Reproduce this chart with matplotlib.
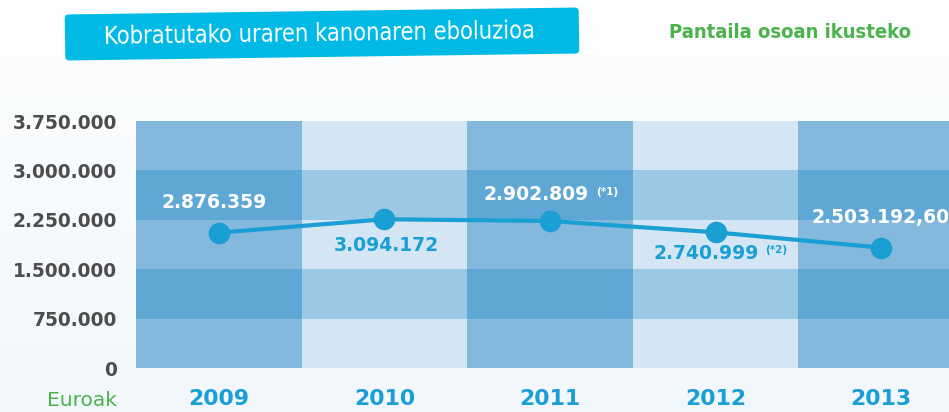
import numpy as np
import matplotlib.pyplot as plt
import matplotlib.transforms as mtransforms
from matplotlib.colors import LinearSegmentedColormap
from matplotlib.patches import FancyBboxPatch

years = ["2009", "2010", "2011", "2012", "2013"]
# positions of the points as drawn in the picture
point_values = [2054000, 2258000, 2232000, 2060000, 1827000]
value_labels = ["2.876.359", "3.094.172", "2.902.809", "2.740.999", "2.503.192,60"]
notes = ["", "", "(*1)", "(*2)", ""]
y_ticks = [0, 750000, 1500000, 2250000, 3000000, 3750000]
y_tick_labels = ["0", "750.000", "1.500.000", "2.250.000", "3.000.000", "3.750.000"]

BLUE = "#1a9fd4"
GREEN = "#4cb34a"
GREY = "#4d4d4d"
# cell colours: [column is dark][band is dark]
CELL = {(True, False): "#84b9dd", (True, True): "#5fa8d5",
        (False, False): "#d4e6f4", (False, True): "#9bc8e5"}


def main():
    fig = plt.figure(figsize=(9.49, 4.12), dpi=100)
    fig.patch.set_facecolor("#f5f9fc")

    # soft vertical gradient behind everything
    bg = fig.add_axes([0, 0, 1, 1], zorder=-10)
    cmap = LinearSegmentedColormap.from_list("bg", ["#f1f7fb", "#fdfeff"])
    bg.imshow(np.linspace(0, 1, 100).reshape(-1, 1), aspect="auto", cmap=cmap,
              origin="lower", extent=(0, 1, 0, 1))
    bg.axis("off")

    ax = fig.add_axes([136 / 949, 44 / 412, 1 - 136 / 949, 247 / 412])
    ax.patch.set_alpha(0)

    # chequered background, one bar per cell
    for i in range(len(years)):
        dark_col = i % 2 == 0
        for j in range(len(y_ticks) - 1):
            dark_band = j % 2 == 1
            ax.bar(i, y_ticks[j + 1] - y_ticks[j], bottom=y_ticks[j], width=1.0,
                   color=CELL[(dark_col, dark_band)], linewidth=0, zorder=1)

    x = list(range(len(years)))
    ax.plot(x, point_values, color=BLUE, lw=3, marker="o", markersize=14.5,
            zorder=3, solid_capstyle="round")

    offsets = [(-3, 22), (1, -19), (-10, 19), (-7, -15), (-50, 22)]
    colors = ["white", BLUE, "white", BLUE, "white"]
    for i, lab in enumerate(value_labels):
        ha = "left" if i == 4 else "center"
        ax.annotate(lab, (i, point_values[i]), xytext=offsets[i],
                    textcoords="offset points", ha=ha, va="center",
                    color=colors[i], fontsize=13.5, fontweight="bold",
                    zorder=4, annotation_clip=False)
        if notes[i]:
            ax.annotate(notes[i], (i, point_values[i]),
                        xytext=(offsets[i][0] + 43, offsets[i][1] + 2),
                        textcoords="offset points", ha="left", va="center",
                        color=colors[i], fontsize=7.5, fontweight="bold", zorder=4)

    ax.set_xlim(-0.5, 4.41)
    ax.set_ylim(0, 3750000)
    ax.set_yticks(y_ticks)
    ax.set_yticklabels(y_tick_labels, fontsize=13.4, fontweight="bold", color=GREY)
    ax.set_xticks(x)
    ax.set_xticklabels(years, fontsize=15.8, fontweight="bold", color=BLUE)
    ax.tick_params(axis="y", length=0, pad=13.5)
    ax.tick_params(axis="x", length=0, pad=15)
    for s in ax.spines.values():
        s.set_visible(False)

    fig.text(117 / 949, 11 / 412, "Euroak", ha="right", va="center",
             fontsize=14.5, color=GREEN)

    # title box, slightly tilted
    rot = mtransforms.Affine2D().rotate_deg_around(322, 378, 0.78)
    box = FancyBboxPatch((65, 355), 514, 46, boxstyle="round,pad=0,rounding_size=4",
                         fc="#00b9e4", ec="none", transform=rot)
    fig.patches.append(box)
    fig.text(319 / 949, 378 / 412, "Kobratutako uraren kanonaren eboluzioa",
             ha="center", va="center", rotation=0.78, rotation_mode="anchor",
             color="white", fontsize=17, family="DejaVu Sans", stretch="condensed")
    fig.text(790 / 949, 379 / 412, "Pantaila osoan ikusteko", ha="center",
             va="center", color=GREEN, fontsize=14.5, fontweight="bold",
             family="DejaVu Sans", stretch="condensed")

    fig.savefig("out.png", dpi=100, facecolor=fig.get_facecolor())
    return 0


if __name__ == "__main__":
    main()
